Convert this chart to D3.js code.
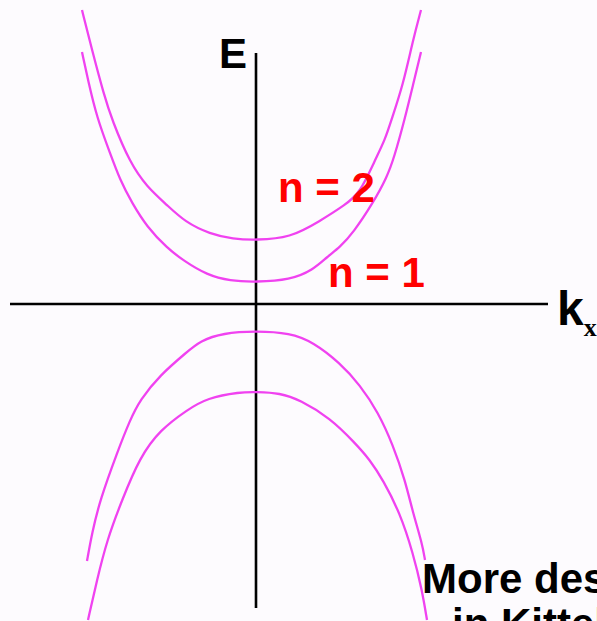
<!DOCTYPE html>
<html>
<head>
<meta charset="utf-8">
<script src="https://cdn.jsdelivr.net/npm/d3@7"></script>
<style>
  html, body { margin: 0; padding: 0; background: #fdfbfe; }
  svg { display: block; }
</style>
</head>
<body>
<svg id="bands"></svg>
<script>
// band curves: [kx, E] in arbitrary units
let cond2 = [[-1.74,2.94],[-1.64,2.54],[-1.52,2.09],[-1.44,1.84],[-1.26,1.41],[-1.09,1.17],[-0.89,0.99],
    [-0.71,0.82],[-0.46,0.70],[-0.23,0.65],[0,0.64],[0.34,0.66],[0.64,0.83],[0.89,0.99],[1.04,1.11],
    [1.19,1.44],[1.29,1.64],[1.36,1.86],[1.47,2.19],[1.57,2.64],[1.65,2.94]];
let cond1 = [[-1.74,2.52],[-1.68,2.24],[-1.59,1.86],[-1.46,1.51],[-1.36,1.24],[-1.24,1.01],[-1.09,0.77],
    [-0.89,0.56],[-0.72,0.43],[-0.49,0.29],[-0.26,0.23],[0,0.22],[0.34,0.24],[0.57,0.34],[0.71,0.47],
    [0.84,0.57],[0.97,0.71],[1.17,1.01],[1.31,1.27],[1.38,1.46],[1.49,1.86],[1.57,2.19],[1.65,2.52]];
let val1 = [[-1.69,-2.57],[-1.64,-2.29],[-1.56,-1.96],[-1.39,-1.49],[-1.26,-1.16],[-1.16,-0.96],
    [-0.96,-0.71],[-0.69,-0.48],[-0.56,-0.37],[-0.33,-0.29],[0,-0.27],[0.34,-0.29],[0.57,-0.38],
    [0.84,-0.59],[1.04,-0.81],[1.22,-1.08],[1.37,-1.41],[1.49,-1.76],[1.57,-2.09],[1.66,-2.39],[1.69,-2.56]];
let val2 = [[-1.68,-3.16],[-1.59,-2.76],[-1.49,-2.36],[-1.34,-1.96],[-1.16,-1.53],[-0.96,-1.26],
    [-0.69,-1.06],[-0.49,-0.94],[-0.16,-0.88],[0,-0.88],[0.24,-0.89],[0.44,-0.96],[0.74,-1.14],
    [0.99,-1.39],[1.14,-1.56],[1.27,-1.76],[1.44,-2.09],[1.57,-2.49],[1.66,-2.86],[1.71,-3.16]];

let bands = [cond2, cond1, val1, val2];
let bandLabels = ["n = 2", "n = 1"];
let bandLabelPos = [[0.22, 1.02], [0.72, 0.17]];
let kRange = [-2.46, 2.92];
let eRange = [-3.04, 2.51];
let note = ["More description", "in Kittel"];

function drawBands() {
    let w = 597, h = 621;

    let svg = d3.select("#bands")
        .attr('width', w)
        .attr('height', h);

    let x = d3.scaleLinear().domain([-1, 1]).range([156, 356]);
    let y = d3.scaleLinear().domain([-1, 1]).range([404, 204]);

    let line = d3.line()
        .x(d => x(d[0]))
        .y(d => y(d[1]))
        .curve(d3.curveBasis);

    // axes
    svg.append('line')
        .attr('x1', x(kRange[0])).attr('x2', x(kRange[1]))
        .attr('y1', y(0)).attr('y2', y(0))
        .style('stroke', '#000').style('stroke-width', 2.6);
    svg.append('line')
        .attr('x1', x(0)).attr('x2', x(0))
        .attr('y1', y(eRange[1])).attr('y2', y(eRange[0]))
        .style('stroke', '#000').style('stroke-width', 2.6);

    svg.selectAll('path.band')
        .data(bands)
        .enter()
        .append('path')
        .classed('band', true)
        .attr('d', line)
        .style('fill', 'none')
        .style('stroke', '#f042f0')
        .style('stroke-width', 2.3);

    let font = 'Arial, "Liberation Sans", sans-serif';

    svg.append('text')
        .attr('x', 219).attr('y', 68)
        .style('font-family', font).style('font-weight', 'bold').style('font-size', '42px')
        .text('E');

    let k = svg.append('text')
        .attr('x', 557).attr('y', 325)
        .style('font-family', font).style('font-weight', 'bold').style('font-size', '48px');
    k.append('tspan').text('k');
    k.append('tspan')
        .attr('dy', 11)
        .style('font-family', '"Liberation Serif", "Times New Roman", serif')
        .style('font-size', '26px')
        .text('x');

    svg.selectAll('text.nlabel')
        .data(bandLabels)
        .enter()
        .append('text')
        .classed('nlabel', true)
        .attr('x', (d, i) => x(bandLabelPos[i][0]))
        .attr('y', (d, i) => y(bandLabelPos[i][1]))
        .style('font-family', font).style('font-weight', 'bold').style('font-size', '42px')
        .style('fill', '#ff0000')
        .text(d => d);

    svg.selectAll('text.note')
        .data(note)
        .enter()
        .append('text')
        .classed('note', true)
        .attr('x', (d, i) => i ? 452 : 422)
        .attr('y', (d, i) => 593 + i * 45)
        .style('font-family', font).style('font-weight', 'bold').style('font-size', '42px')
        .text(d => d);
}

window.onload = function() {
    drawBands();
}
</script>
</body>
</html>
